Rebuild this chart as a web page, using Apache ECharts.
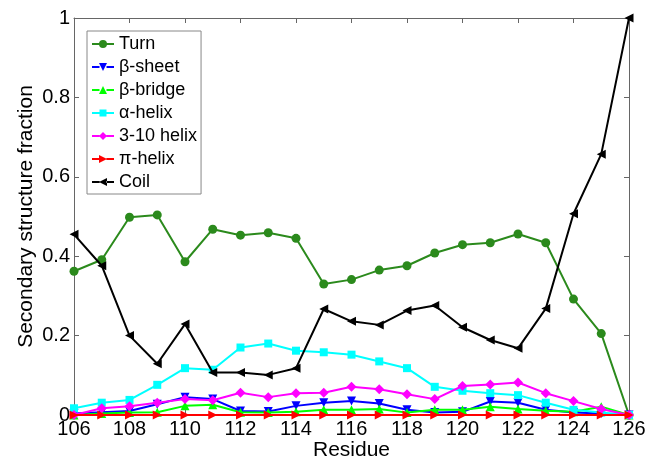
<!DOCTYPE html>
<html>
<head>
<meta charset="utf-8">
<script src="https://cdn.jsdelivr.net/npm/echarts@6/dist/echarts.min.js"></script>
<style>
html,body{margin:0;padding:0;background:#fff;}
#chart{width:657px;height:461px;}
</style>
</head>
<body>
<div id="chart"></div>
<script>
const residues = [106,107,108,109,110,111,112,113,114,115,116,117,118,119,120,121,122,123,124,125,126];
const turn     = [0.362,0.391,0.498,0.504,0.386,0.468,0.453,0.459,0.445,0.330,0.341,0.365,0.376,0.408,0.429,0.434,0.456,0.434,0.292,0.205,0.000];
const betaSheet  = [0.004,0.007,0.010,0.027,0.045,0.040,0.010,0.009,0.023,0.031,0.035,0.029,0.013,0.006,0.008,0.034,0.031,0.013,0.006,0.004,0.000];
const betaBridge = [0.000,0.004,0.006,0.007,0.023,0.026,0.007,0.006,0.008,0.013,0.013,0.015,0.006,0.013,0.013,0.021,0.015,0.011,0.008,0.021,0.000];
const alphaHelix = [0.017,0.031,0.038,0.076,0.118,0.114,0.170,0.180,0.162,0.158,0.152,0.135,0.118,0.071,0.061,0.055,0.050,0.031,0.013,0.006,0.000];
const helix310   = [0.000,0.017,0.022,0.031,0.040,0.037,0.056,0.045,0.055,0.056,0.071,0.065,0.052,0.040,0.073,0.077,0.082,0.055,0.035,0.015,0.000];
const piHelix    = [0,0,0,0,0,0,0,0,0,0,0,0,0,0,0,0,0,0,0,0,0];
const coil     = [0.455,0.376,0.200,0.129,0.229,0.107,0.107,0.101,0.118,0.267,0.236,0.227,0.263,0.276,0.221,0.189,0.168,0.268,0.507,0.657,1.000];

const seriesNames = ['Turn','β-sheet','β-bridge','α-helix','3-10 helix','π-helix','Coil'];
const seriesValues = [turn, betaSheet, betaBridge, alphaHelix, helix310, piHelix, coil];
const seriesColors = ['#2b8a1c','#0000ff','#00ff00','#00ffff','#ff00ff','#ff0000','#000000'];
const seriesSymbols = ['circle','triangle','triangle','rect','diamond','triangle','triangle'];
const symbolRotates = [0,180,0,0,0,-90,90];
const symbolSizes = [9,9,9,8,10,9,9];

const segs = 'M0,3.1H7.5V4.9H0Z M14.5,3.1H22V4.9H14.5Z ';
const legendIcons = [
  'path://' + segs + 'M15,4A4,4 0 1 1 7,4A4,4 0 1 1 15,4Z',
  'path://' + segs + 'M7,0H15L11,8Z',
  'path://' + segs + 'M11,0L15,8H7Z',
  'path://' + segs + 'M7.5,0.5H14.5V7.5H7.5Z',
  'path://' + segs + 'M11,0L15,4L11,8L7,4Z',
  'path://' + segs + 'M7,0L15,4L7,8Z',
  'path://' + segs + 'M15,0L7,4L15,8Z'
];

const FONT = '"Liberation Sans", Arial, sans-serif';
const axisCommon = {
  axisLine: {show: true, onZero: false, lineStyle: {color: '#666', width: 1}},
  axisTick: {show: true, inside: true, length: 5, lineStyle: {color: '#666'}},
  splitLine: {show: false}
};

const chart = echarts.init(document.getElementById('chart'), null, {renderer: 'canvas'});
chart.setOption({
  animation: false,
  backgroundColor: '#fff',
  grid: {left: 74, right: 28, top: 18, bottom: 46, containLabel: false, outerBoundsMode: 'none'},
  legend: {
    orient: 'vertical',
    left: 87, top: 31,
    padding: [3, 4, 2, 5],
    itemGap: 3,
    itemWidth: 22, itemHeight: 8,
    backgroundColor: '#fff',
    borderColor: '#888', borderWidth: 1,
    textStyle: {fontFamily: FONT, fontSize: 18, color: '#000', lineHeight: 20},
    data: seriesNames.map((n, i) => ({name: n, icon: legendIcons[i], itemStyle: {color: seriesColors[i]}}))
  },
  xAxis: [
    Object.assign({
      type: 'value', min: 106, max: 126, interval: 2, position: 'bottom',
      name: 'Residue', nameLocation: 'middle', nameGap: 25, nameMoveOverlap: false,
      nameTextStyle: {fontFamily: FONT, fontSize: 21, color: '#000'},
      axisLabel: {fontFamily: FONT, fontSize: 20, color: '#000', margin: 4}
    }, axisCommon),
    Object.assign({
      type: 'value', min: 106, max: 126, interval: 2, position: 'top',
      axisLabel: {show: false}
    }, axisCommon)
  ],
  yAxis: [
    Object.assign({
      type: 'value', min: 0, max: 1, interval: 0.2, position: 'left',
      name: 'Secondary structure fraction', nameLocation: 'middle', nameGap: 37, nameMoveOverlap: false,
      nameTextStyle: {fontFamily: FONT, fontSize: 21, color: '#000'},
      axisLabel: {fontFamily: FONT, fontSize: 20, color: '#000', margin: 4}
    }, axisCommon),
    Object.assign({
      type: 'value', min: 0, max: 1, interval: 0.2, position: 'right',
      axisLabel: {show: false}
    }, axisCommon)
  ],
  series: seriesNames.map((n, i) => ({
    name: n,
    type: 'line',
    xAxisIndex: 0, yAxisIndex: 0,
    data: residues.map((r, j) => [r, seriesValues[i][j]]),
    symbol: seriesSymbols[i],
    symbolRotate: symbolRotates[i],
    symbolSize: symbolSizes[i],
    showAllSymbol: true,
    color: seriesColors[i],
    lineStyle: {color: seriesColors[i], width: 2},
    itemStyle: {color: seriesColors[i]},
    z: 2 + i
  }))
});
</script>
</body>
</html>
